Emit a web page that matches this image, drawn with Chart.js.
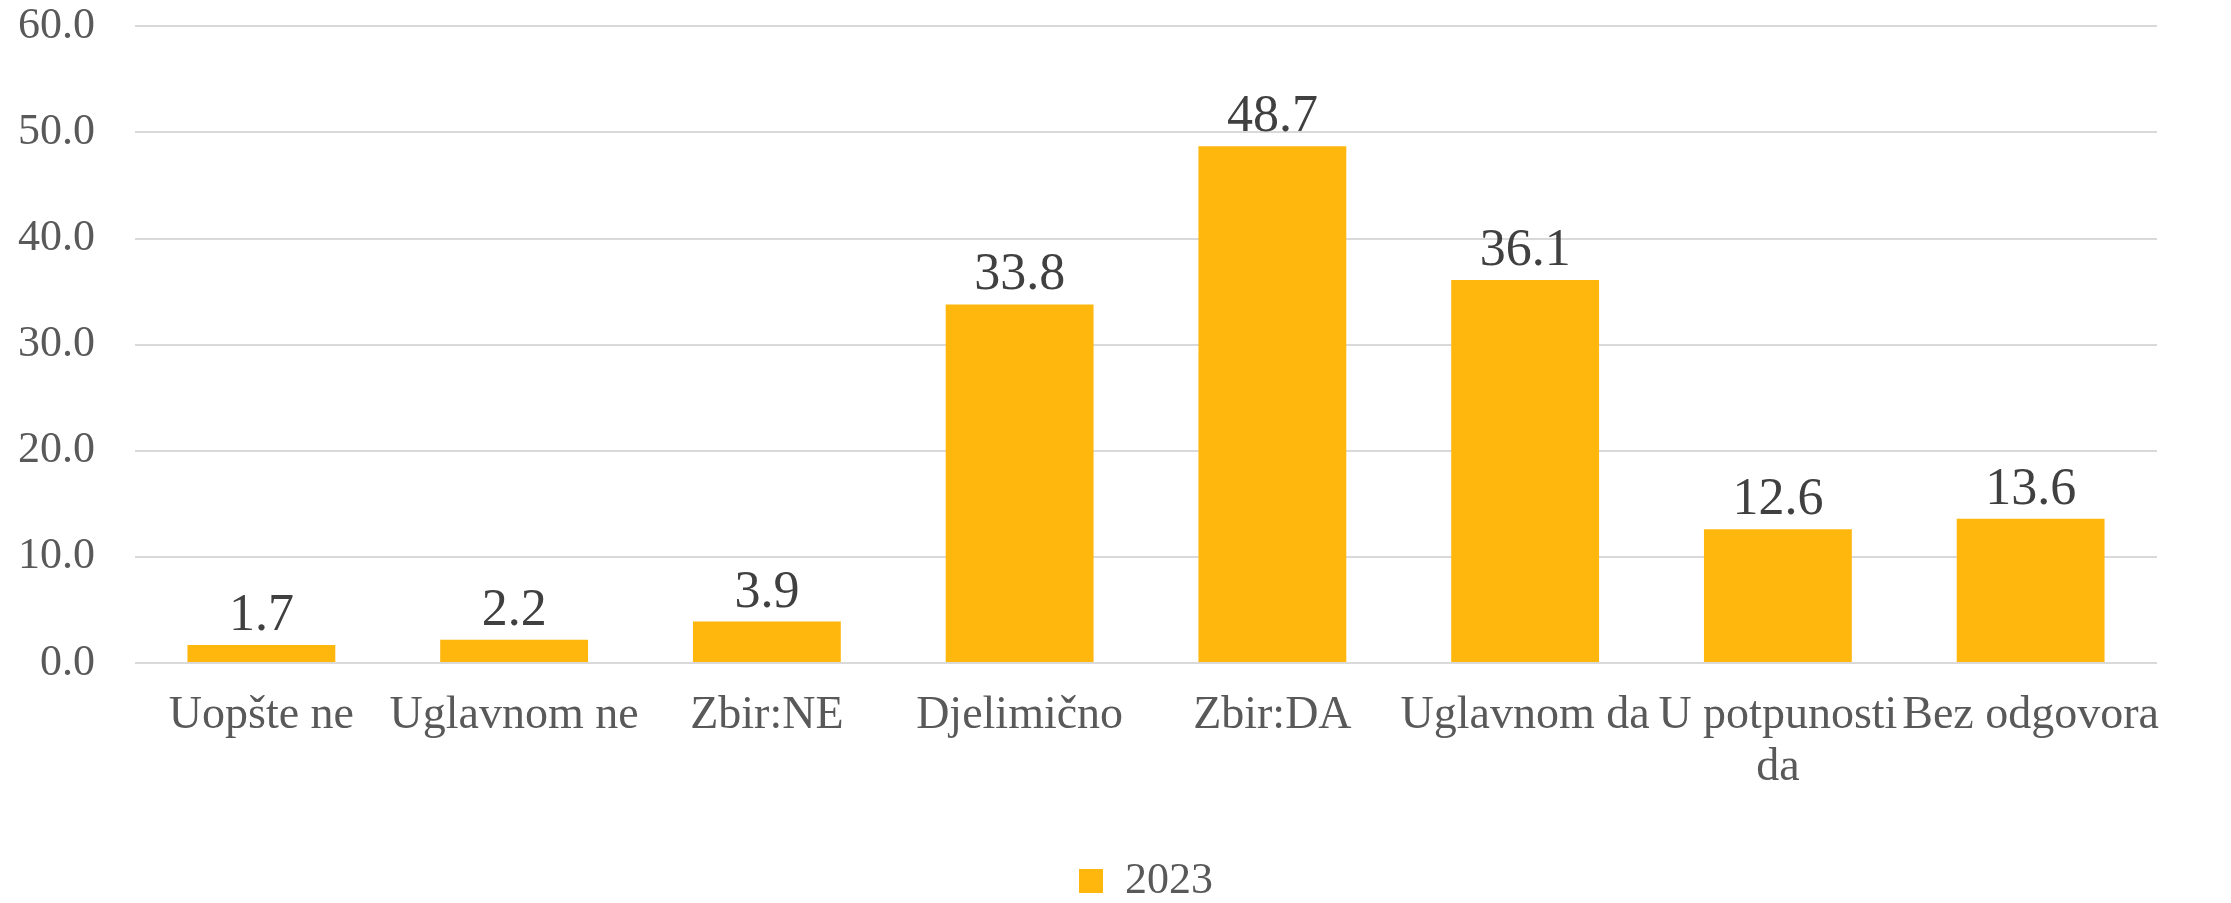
<!DOCTYPE html>
<html>
<head>
<meta charset="utf-8">
<script src="https://cdn.jsdelivr.net/npm/chart.js@4"></script>
<style>
  html, body { margin: 0; padding: 0; background: #ffffff; }
  #wrap { width: 2231px; height: 903px; }
</style>
</head>
<body>
<div id="wrap"><canvas id="chart" width="2231" height="903"></canvas></div>
<script>
// ── Data ──
const categories = ['Uopšte ne', 'Uglavnom ne', 'Zbir:NE', 'Djelimično', 'Zbir:DA', 'Uglavnom da', ['U potpunosti', 'da'], 'Bez odgovora'];
const values2023 = [1.7, 2.2, 3.9, 33.8, 48.7, 36.1, 12.6, 13.6];
const seriesName = '2023';
const yTicks = [0, 10, 20, 30, 40, 50, 60];

const FONT = '"Liberation Serif", "DejaVu Serif", serif';
const BAR_COLOR = '#FFB60D';

// ── Value labels above bars ──
const valueLabels = {
    id: 'valueLabels',
    afterDatasetsDraw(chart) {
        const ctx = chart.ctx;
        const meta = chart.getDatasetMeta(0);
        ctx.save();
        ctx.font = '52px ' + FONT;
        ctx.fillStyle = '#404040';
        ctx.textAlign = 'center';
        ctx.textBaseline = 'alphabetic';
        meta.data.forEach((bar, i) => {
            ctx.fillText(values2023[i].toFixed(1), bar.x, bar.y - 15);
        });
        ctx.restore();
    }
};

new Chart(document.getElementById('chart'), {
    type: 'bar',
    data: {
        labels: categories,
        datasets: [{
            label: seriesName,
            data: values2023,
            backgroundColor: BAR_COLOR,
            borderWidth: 0,
            barPercentage: 0.585,
            categoryPercentage: 1.0,
        }],
    },
    options: {
        responsive: false,
        animation: false,
        devicePixelRatio: 1,
        layout: { padding: { left: 0, right: 74, top: 0, bottom: -10 } },
        plugins: {
            tooltip: { enabled: false },
            legend: {
                position: 'bottom',
                fullSize: false,
                labels: {
                    color: '#595959',
                    font: { family: FONT, size: 44 },
                    boxWidth: 24,
                    boxHeight: 24,
                    padding: 4,
                },
            },
        },
        scales: {
            y: {
                min: 0,
                max: 60,
                afterFit(scale) { scale.width = 135; },
                afterBuildTicks(scale) { scale.ticks = yTicks.map(v => ({ value: v })); },
                ticks: {
                    color: '#595959',
                    font: { family: FONT, size: 44 },
                    padding: 0,
                    callback: v => Number(v).toFixed(1),
                },
                // invisible tick marks give the gap between labels and plot
                grid: { color: '#D9D9D9', lineWidth: 2, drawTicks: true, tickLength: 40, tickColor: 'rgba(0,0,0,0)' },
                border: { display: false },
            },
            x: {
                afterFit(scale) { scale.height = 192; },
                ticks: {
                    color: '#595959',
                    font: { family: FONT, size: 46, lineHeight: 1.15 },
                    padding: 26,
                    maxRotation: 0,
                    autoSkip: false,
                },
                grid: { display: false, drawTicks: false },
                border: { display: false },
            },
        },
    },
    plugins: [valueLabels],
});
</script>
</body>
</html>
